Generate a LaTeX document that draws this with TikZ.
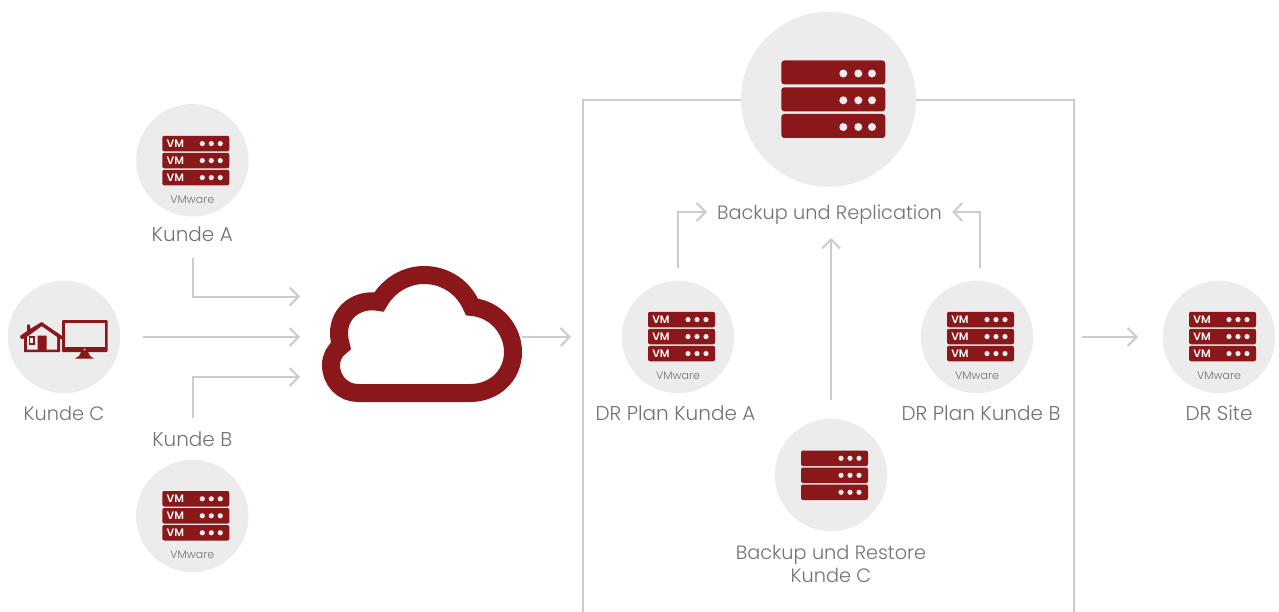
\documentclass[tikz,border=0pt]{standalone}
\usepackage{fontspec}
\setmainfont{Poppins}[UprightFont=* Light,BoldFont=* SemiBold]
\usetikzlibrary{arrows.meta}
\definecolor{dred}{HTML}{8A171A}
\definecolor{disc}{HTML}{ECECEC}
\definecolor{wire}{HTML}{CCCCCC}
\definecolor{ink}{HTML}{727272}
\tikzset{
  rack/.pic={
    \foreach \y in {-24.5,-7.5,9.5}{
      \fill[dred,rounded corners=2pt] (-30,\y) rectangle (37,\y+15.5);
      \foreach \x in {10,19,28}{\fill[disc] (\x,\y+7.8) circle (2.6);}
    }
  },
  vmrack/.pic={
    \pic {rack};
    \foreach \y in {-16.5,0.5,17.5}{
      \node[text=white,font=\bfseries\fontsize{10.8}{12}\selectfont] at (-17,\y) {VM};
    }
    \node[text=ink,font=\fontsize{11}{12}\selectfont] at (0,39.5) {VMware};
  }
}
\begin{document}
\begin{tikzpicture}[x=1pt,y=-1pt]
\tikzstyle{place}=[circle,fill=disc,minimum size=112.5pt,inner sep=0pt]
\tikzstyle{label}=[text=ink,font=\fontsize{20}{23}\selectfont,align=center]
\tikzstyle{wide}=[text=ink,font=\fontsize{19.3}{23}\selectfont,align=center]
\tikzstyle{wirel}=[wire,line width=2pt]
\tikzstyle{link}=[wirel,-{Straight Barb[length=9pt,width=18pt]}]
\useasboundingbox (0,0) rectangle (1279,612);

    %Frame
    \coordinate (frame_l) at (582.5,612);
    \coordinate (frame_r) at (1074,612);
    \coordinate (frame_top) at (828.5,100);
    \draw[wirel] (frame_top) -| (frame_l);
    \draw[wirel] (frame_top) -| (frame_r);
    \node [circle,fill=disc,minimum size=175pt,inner sep=0pt](backup) at (828.5,99.3){};

    %Customers
    \node [place](kunde_a) at (192.3,160.3){};
    \node [place](kunde_c) at (64,337){};
    \node [place](kunde_b) at (192.3,516){};
    \node [label,node distance=74pt,below of=kunde_a](kunde_a_txt){Kunde A};
    \node [wide,node distance=76pt,below of=kunde_c](kunde_c_txt){Kunde C};
    \node [label,node distance=77pt,above of=kunde_b](kunde_b_txt){Kunde B};

    %DR side
    \node [place](plan_a) at (678,337){};
    \node [place](plan_b) at (977,337){};
    \node [place](site) at (1219,337){};
    \node [place](restore) at (831,475){};
    \node [label,node distance=76pt,below of=plan_a,xshift=-2.5pt](plan_a_txt){DR Plan Kunde A};
    \node [label,node distance=76pt,below of=plan_b,xshift=4pt](plan_b_txt){DR Plan Kunde B};
    \node [label,node distance=76pt,below of=site](site_txt){DR Site};
    \node [wide,node distance=89pt,below of=restore](restore_txt){Backup und Restore\\Kunde C};
    \node [wide](replication) at (829.5,215){Backup und Replication};

    %Racks
    \pic at (kunde_a) {vmrack};
    \pic at ([yshift=0.5pt]kunde_b) {vmrack};
    \pic at ([yshift=0.7pt]plan_a) {vmrack};
    \pic at ([yshift=0.7pt]plan_b) {vmrack};
    \pic at ([yshift=0.7pt]site) {vmrack};
    \pic at (restore) {rack};
    \foreach \y in {60.5,87.3,114}{
      \fill[dred,rounded corners=3pt] (781.3,\y) rectangle (885.3,\y+24);
      \foreach \x in {843.3,858.3,872}{\fill[disc] (\x,\y+13) circle (4);}
    }

    %House and monitor
    \fill[dred] (20,336) -- (27,331) -- (27,324.5) -- (30,324.5) -- (30,329) -- (41.7,322) -- (62,336) -- (62,339.5)
      -- (60,338.5) -- (60,352) -- (24,352) -- (24,338.5) -- (21,339) -- cycle;
    \fill[disc] (41.7,326.3) -- (57,337) -- (57,349.5) -- (46.5,349.5) -- (46.5,335.5) -- (37.5,335.5) -- (37.5,349.5) -- (27,349.5) -- (27,337) -- cycle;
    \fill[dred] (28.5,335.5) rectangle (35,344.5);
    \fill[disc] (30.3,337.5) rectangle (33.2,342.5);
    \fill[dred,rounded corners=1pt] (62,320) rectangle (107.5,352);
    \fill[disc] (64.5,322.5) rectangle (105,347);
    \fill[dred] (81,352) -- (88,352) -- (90,356) -- (94,358.5) -- (75,358.5) -- (79,356) -- cycle;
    \fill[disc] (84.5,349.5) circle (1);

    %Cloud
    \draw[dred,line width=18pt,miter limit=4] (358,393) -- (470,393)
      .. controls (494,393) and (513,376) .. (513,352)
      .. controls (513,330) and (496,309) .. (472,307)
      .. controls (464,288) and (446,275) .. (424,275)
      .. controls (405,275) and (388,286) .. (379,302)
      .. controls (358,298) and (339,312) .. (339,333)
      .. controls (339,338) and (340,342) .. (341,346)
      .. controls (335,350) and (331,357) .. (331,365)
      .. controls (331,381) and (343,393) .. (358,393) -- cycle;
    \coordinate (cloud_e) at (522,337);
    \coordinate (cloud_out) at (571,337);

    %Into the cloud
    \coordinate (a_out) at (192.5,258);
    \coordinate (b_out) at (192.5,418);
    \coordinate (c_out) at (143,337);
    \coordinate (a_in) at (300,296.5);
    \coordinate (b_in) at (300,377);
    \coordinate (c_in) at (300,337);
    \draw[link] (a_out) |- (a_in);
    \draw[link] (b_out) |- (b_in);
    \draw[link] (c_out) -- (c_in);
    \draw[link] (cloud_e) -- (cloud_out);

    %To the site
    \coordinate (site_out) at (1082,337);
    \coordinate (site_in) at (1138,337);
    \draw[link] (site_out) -- (site_in);

    %Into replication
    \coordinate (plan_a_up) at (678,268);
    \coordinate (plan_b_up) at (980,268);
    \coordinate (restore_up) at (831,400);
    \coordinate (repl_a) at (707,212);
    \coordinate (repl_b) at (952,212);
    \coordinate (repl_c) at (831,238);
    \draw[link] (plan_a_up) |- (repl_a);
    \draw[link] (plan_b_up) |- (repl_b);
    \draw[link] (restore_up) -- (repl_c);
\end{tikzpicture}
\end{document}
